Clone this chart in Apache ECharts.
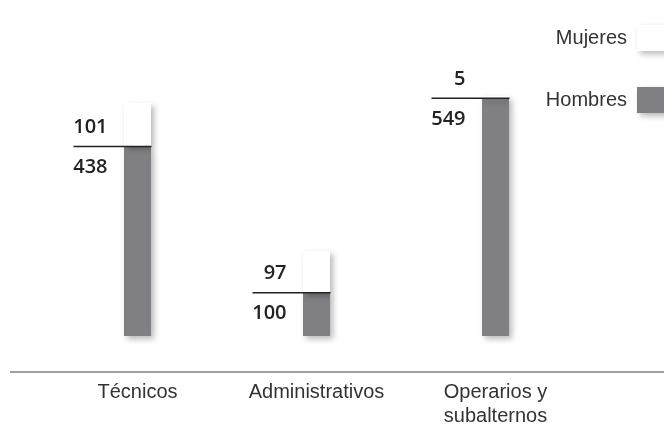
<!DOCTYPE html>
<html>
<head>
<meta charset="utf-8">
<script src="https://cdn.jsdelivr.net/npm/echarts@6/dist/echarts.min.js"></script>
<style>
  html, body { margin: 0; padding: 0; background: #fff; }
  #chart { width: 664px; height: 428px; }
</style>
</head>
<body>
<div id="chart"></div>
<script>
  var categories = ['Técnicos', 'Administrativos', 'Operarios y\nsubalternos'];
  var hombres = [438, 100, 549];
  var mujeres = [101, 97, 5];

  var font = '"Liberation Sans", Arial, sans-serif';
  var numFont = '"Open Sans", "Liberation Sans", sans-serif';
  var grey = '#808084';
  var shadow = { shadowBlur: 6, shadowColor: 'rgba(0,0,0,0.28)', shadowOffsetX: 3, shadowOffsetY: 3 };

  var chart = echarts.init(document.getElementById('chart'));

  var option = {
    animation: false,
    grid: { left: 48, right: 79, top: 33, bottom: 86 },
    legend: {
      orient: 'vertical',
      right: -4,
      top: 25,
      padding: 0,
      align: 'right',
      itemWidth: 31,
      itemHeight: 26,
      itemGap: 36,
      icon: 'rect',
      data: ['Mujeres', 'Hombres'],
      textStyle: { fontFamily: font, fontSize: 20, color: '#333', padding: [0, 5, 0, 0] },
      itemStyle: shadow,
    },
    xAxis: {
      type: 'category',
      data: categories,
      axisLine: { show: false },
      axisTick: { show: false },
      axisLabel: { margin: 44, fontFamily: font, fontSize: 20, color: '#333', lineHeight: 24 },
    },
    yAxis: {
      type: 'value',
      min: 0,
      max: 700,
      show: false,
      splitLine: { show: false },
    },
    graphic: [
      {
        type: 'line',
        shape: { x1: 10, y1: 372, x2: 664, y2: 372 },
        style: { stroke: '#7f7f7f', lineWidth: 1.5 },
      },
    ],
    series: [
      {
        name: 'Hombres',
        type: 'bar',
        stack: 'total',
        barWidth: 27,
        itemStyle: Object.assign({ color: grey }, shadow),
        data: hombres,
      },
      {
        name: 'Mujeres',
        type: 'bar',
        stack: 'total',
        barWidth: 27,
        itemStyle: Object.assign({ color: '#ffffff' }, shadow),
        data: mujeres,
      },
      {
        name: 'etiquetas',
        type: 'custom',
        z: 10,
        data: hombres.map(function (v, i) { return [i, v, mujeres[i]]; }),
        renderItem: function (params, api) {
          var p = api.coord([api.value(0), api.value(1)]);
          var txt = { align: 'right', verticalAlign: 'middle', font: '600 20px ' + numFont, fill: '#222' };
          return {
            type: 'group',
            children: [
              {
                type: 'line',
                shape: { x1: p[0] - 64, y1: p[1], x2: p[0] + 14, y2: p[1] },
                style: { stroke: '#222', lineWidth: 1.5 },
              },
              {
                type: 'text',
                style: Object.assign({ text: String(api.value(2)), x: p[0] - 30, y: p[1] - 19 }, txt),
              },
              {
                type: 'text',
                style: Object.assign({ text: String(api.value(1)), x: p[0] - 30, y: p[1] + 21 }, txt),
              },
            ],
          };
        },
      },
    ],
  };

  chart.setOption(option);
</script>
</body>
</html>
